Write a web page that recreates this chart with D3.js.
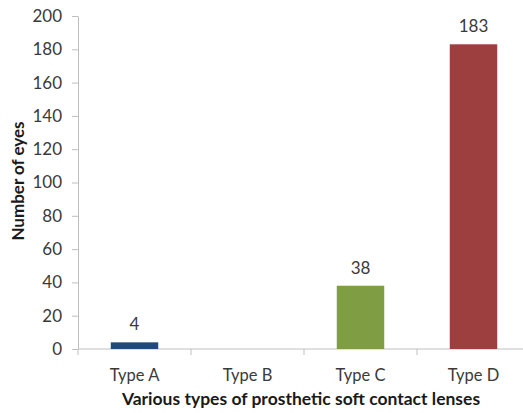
<!DOCTYPE html>
<html>
<head>
<meta charset="utf-8">
<script src="https://cdn.jsdelivr.net/npm/d3@7"></script>
<style>
  html, body { margin: 0; padding: 0; background: #fff; }
  svg text { font-family: Lato, "Open Sans", sans-serif; }
</style>
</head>
<body>
<svg id="chart" width="523" height="413"></svg>
<script>
// Lens types and eye counts
const categories = ["Type A", "Type B", "Type C", "Type D"];
const values = [4, 0, 38, 183];
const labels = ["4", "", "38", "183"];
const barColors = ["#23497a", "#5b7fb0", "#7f9d42", "#9d3f3e"];
const yTicks = [0, 20, 40, 60, 80, 100, 120, 140, 160, 180, 200];

const svg = d3.select("#chart");
const axisColor = "#bfbfbf";
const textColor = "#3a3a3a";

const plotLeft = 78, plotRight = 530, plotTop = 16, plotBottom = 349;

const y = d3.scaleLinear().domain([0, 200]).range([plotBottom, plotTop]);
const x = d3.scaleBand().domain(categories).range([plotLeft, plotRight])
  .paddingInner(0.58).paddingOuter(0.29);
const step = x.step();

// Y axis
const yAxis = svg.append("g").attr("transform", `translate(${plotLeft},0)`)
  .call(d3.axisLeft(y).tickValues(yTicks).tickSize(6).tickPadding(10).tickSizeOuter(0));
yAxis.select(".domain").attr("stroke", axisColor);
yAxis.selectAll(".tick line").attr("stroke", axisColor);
yAxis.selectAll(".tick text").attr("fill", textColor)
  .style("font-size", "17px").style("font-family", "Lato, sans-serif");

// X axis line and category separators
svg.append("line").attr("x1", plotLeft).attr("x2", plotRight)
  .attr("y1", plotBottom).attr("y2", plotBottom).attr("stroke", axisColor);
const bounds = categories.map((c, i) => plotLeft + step * i);
svg.selectAll(".xsep").data(bounds).join("line")
  .attr("x1", d => d).attr("x2", d => d).attr("y1", plotBottom).attr("y2", plotBottom + 6)
  .attr("stroke", axisColor);

svg.selectAll(".xlab").data(categories).join("text")
  .attr("x", c => x(c) + x.bandwidth() / 2).attr("y", 381)
  .attr("text-anchor", "middle").attr("fill", textColor).style("font-size", "16.5px")
  .text(c => c);

// Bars
svg.selectAll(".bar").data(categories).join("rect")
  .attr("x", c => x(c)).attr("width", x.bandwidth())
  .attr("y", (c, i) => y(values[i])).attr("height", (c, i) => y(0) - y(values[i]))
  .attr("fill", (c, i) => barColors[i]);

// Value labels
svg.selectAll(".val").data(categories).join("text")
  .attr("x", c => x(c) + x.bandwidth() / 2)
  .attr("y", (c, i) => y(values[i]) - 12)
  .attr("text-anchor", "middle").attr("fill", textColor).style("font-size", "17px")
  .text((c, i) => labels[i]);

// Axis titles
svg.append("text").attr("x", 301).attr("y", 405).attr("text-anchor", "middle")
  .attr("fill", "#1a1a1a").style("font-size", "17.5px").style("font-weight", "bold")
  .text("Various types of prosthetic soft contact lenses");
svg.append("text").attr("transform", "translate(24,181) rotate(-90)")
  .attr("text-anchor", "middle").attr("fill", "#1a1a1a")
  .style("font-size", "17px").style("font-weight", "bold")
  .text("Number of eyes");
</script>
</body>
</html>
